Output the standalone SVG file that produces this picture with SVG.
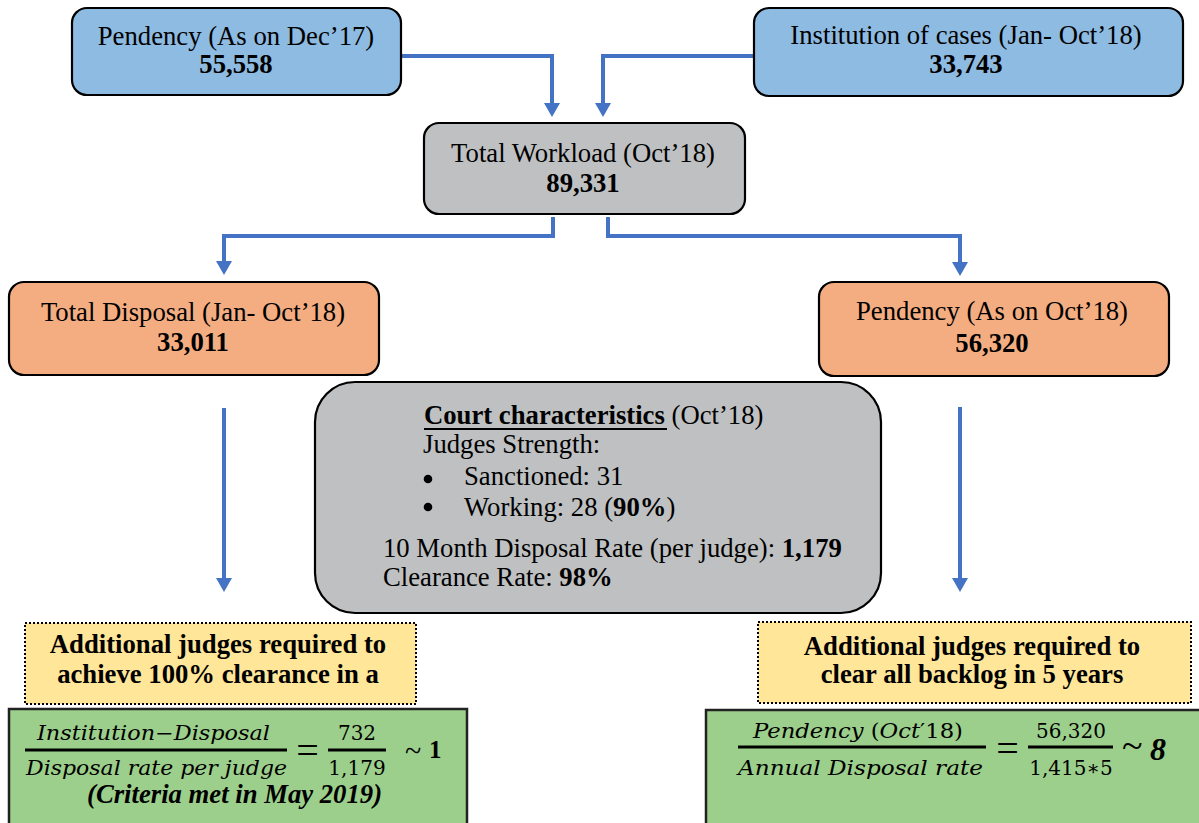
<svg xmlns="http://www.w3.org/2000/svg" width="1199" height="823" viewBox="0 0 1199 823">
<defs>
<marker id="ah" markerUnits="userSpaceOnUse" markerWidth="16" markerHeight="18" refX="1" refY="8" orient="auto">
<path d="M0,0 L14,8 L0,16 z" fill="#4472c4"/>
</marker>
<style>
.box{stroke:#000;stroke-width:2.2}
.blue{fill:#8ebbe2}
.gray{fill:#bfc0c2}
.orange{fill:#f4ad80}
.yellow{fill:#ffe699;stroke:#000;stroke-width:2;stroke-dasharray:2 2}
.green{fill:#9ccf8b;stroke:#222;stroke-width:2.5}
.t{font-family:"Liberation Serif","Times New Roman",serif;font-size:26.7px;fill:#000}
.c{text-anchor:middle}
.b{font-weight:bold}
.m{font-family:"DejaVu Serif",serif;font-size:20px;fill:#000}
.i{font-style:italic}
.con{fill:none;stroke:#4472c4;stroke-width:4;marker-end:url(#ah)}
.fl{stroke:#000;stroke-width:3}
</style>
</defs>
<rect width="1199" height="823" fill="#fff"/>

<g id="connectors">
<path class="con" d="M400,56 H552 V104"/>
<path class="con" d="M754,56 H603 V104"/>
<path class="con" d="M553,217 V236 H224 V262"/>
<path class="con" d="M608,217 V236 H960 V263"/>
<path class="con" d="M224,408 V579"/>
<path class="con" d="M960,407 V579"/>
</g>

<g id="pendency-dec17">
<rect class="box blue" x="72" y="8" width="329" height="87" rx="15"/>
<text class="t c" x="236" y="45">Pendency (As on Dec’17)</text>
<text class="t c b" x="236" y="73">55,558</text>
</g>

<g id="institution">
<rect class="box blue" x="754" y="8" width="429" height="88" rx="15"/>
<text class="t c" x="966" y="44">Institution of cases (Jan- Oct’18)</text>
<text class="t c b" x="966" y="73">33,743</text>
</g>

<g id="total-workload">
<rect class="box gray" x="424" y="123" width="321" height="91" rx="15"/>
<text class="t c" x="583" y="162">Total Workload (Oct’18)</text>
<text class="t c b" x="583" y="192">89,331</text>
</g>

<g id="total-disposal">
<rect class="box orange" x="9" y="282" width="370" height="93" rx="15"/>
<text class="t c" x="193" y="321">Total Disposal (Jan- Oct’18)</text>
<text class="t c b" x="193" y="351">33,011</text>
</g>

<g id="pendency-oct18">
<rect class="box orange" x="819" y="282" width="350" height="94" rx="15"/>
<text class="t c" x="992" y="320">Pendency (As on Oct’18)</text>
<text class="t c b" x="992" y="352">56,320</text>
</g>

<g id="court-characteristics">
<rect class="box gray" x="315" y="382" width="566" height="231" rx="40"/>
<text class="t" x="424" y="424"><tspan class="b">Court characteristics</tspan> (Oct’18)</text>
<line x1="424" y1="429" x2="667" y2="429" stroke="#000" stroke-width="2"/>
<text class="t" x="423" y="453">Judges Strength:</text>
<circle cx="428" cy="479" r="4.3" fill="#000"/>
<text class="t" x="464" y="485">Sanctioned: 31</text>
<circle cx="428" cy="507" r="4.3" fill="#000"/>
<text class="t" x="464" y="516">Working: 28 (<tspan class="b">90%</tspan>)</text>
<text class="t" x="383" y="557">10 Month Disposal Rate (per judge): <tspan class="b">1,179</tspan></text>
<text class="t" x="383" y="586">Clearance Rate: <tspan class="b">98%</tspan></text>
</g>

<g id="note-left">
<rect class="yellow" x="25" y="623" width="391" height="81"/>
<text class="t c b" x="218" y="653">Additional judges required to</text>
<text class="t c b" x="218" y="683">achieve 100% clearance in a</text>
</g>

<g id="note-right">
<rect class="yellow" x="758" y="622" width="433" height="81"/>
<text class="t c b" x="972" y="655">Additional judges required to</text>
<text class="t c b" x="972" y="683">clear all backlog in 5 years</text>
</g>

<g id="formula-left">
<rect class="green" x="9" y="709" width="458" height="130"/>
<text class="m i" x="37" y="740" textLength="233" lengthAdjust="spacingAndGlyphs">Institution−Disposal</text>
<line class="fl" x1="25" y1="750" x2="287" y2="750"/>
<text class="m i" x="26" y="775" textLength="261" lengthAdjust="spacingAndGlyphs">Disposal rate per judge</text>
<text class="t c" x="307.5" y="764" style="font-size:40px">=</text>
<text class="m c" x="357" y="740">732</text>
<line class="fl" x1="328" y1="750" x2="386" y2="750"/>
<text class="m c" x="357" y="775">1,179</text>
<text class="t" x="405" y="761" style="font-size:30px">~</text>
<text class="t b" x="429" y="758" style="font-size:25px">1</text>
<text class="t b i" x="87" y="803">(Criteria met in May 2019)</text>
</g>

<g id="formula-right">
<rect class="green" x="706" y="710" width="510" height="130"/>
<text class="m" x="753" y="738" textLength="210" lengthAdjust="spacingAndGlyphs"><tspan class="i">Pendency</tspan> (<tspan class="i">Oct</tspan>′18)</text>
<line class="fl" x1="738" y1="747" x2="986" y2="747"/>
<text class="m i" x="738" y="775" textLength="245" lengthAdjust="spacingAndGlyphs">Annual Disposal rate</text>
<text class="t c" x="1007.5" y="762" style="font-size:40px">=</text>
<text class="m c" x="1071" y="738">56,320</text>
<line class="fl" x1="1028" y1="747" x2="1113" y2="747"/>
<text class="m c" x="1071" y="775">1,415∗5</text>
<text class="t" x="1122" y="758" style="font-size:38px">~</text>
<text class="t b i" x="1150" y="760" style="font-size:32px">8</text>
</g>
</svg>
